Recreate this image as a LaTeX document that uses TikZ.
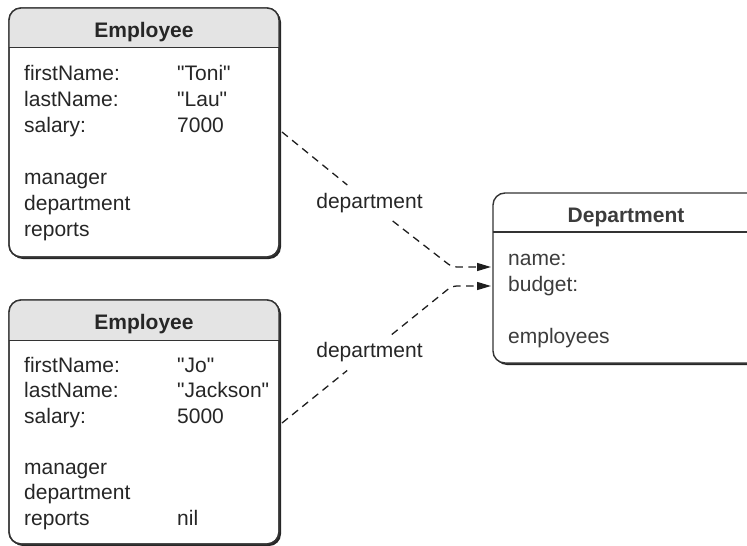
\documentclass[tikz,border=0pt]{standalone}
\usepackage{fontspec}
\setmainfont{Liberation Sans}[Ligatures=TeXOff]
\usetikzlibrary{arrows.meta,shadows}
\definecolor{boxc}{HTML}{333333}
\definecolor{shadowc}{HTML}{262626}
\definecolor{hdr}{HTML}{E4E4E4}
\definecolor{txt}{HTML}{262626}
\definecolor{txtd}{HTML}{3C3C3C}
\definecolor{linec}{HTML}{1E1E1E}
\tikzset{
  boxshape/.style={draw=boxc, line width=1.4pt, rounded corners=12pt, fill=white,
    inner sep=0pt, outer sep=0pt,
    drop shadow={shadow xshift=2pt, shadow yshift=-2pt, fill=shadowc, opacity=1}},
  boxline/.style={draw=boxc, line width=1.4pt},
  fld/.style={anchor=base west, inner sep=0pt, text=txt, font=\fontsize{21pt}{25pt}\selectfont},
  dfld/.style={fld, text=txtd},
  ttl/.style={anchor=base, inner sep=0pt, text=txt, font=\fontsize{21pt}{25pt}\selectfont\bfseries},
  lbl/.style={inner xsep=3pt, inner ysep=8pt, text=txt, font=\fontsize{21pt}{25pt}\selectfont},
  conn/.style={draw=linec, line width=1.3pt, dash pattern=on 7.5pt off 5.5pt,
    -{Triangle[length=14pt,width=8pt]}, shorten >=2pt, rounded corners=5pt},
}
\begin{document}
\begin{tikzpicture}[x=1pt,y=-1pt]
\useasboundingbox (0,0) rectangle (747,546);
\clip (0,0) rectangle (747,546);

% ---------- Employee 1 ----------
\node[boxshape, minimum width=270pt, minimum height=249pt] (emp1) at (144,132.5) {};
\coordinate (h1) at (0,47.5);
\begin{scope}
  \clip[rounded corners=12pt] (emp1.north west) rectangle (emp1.south east);
  \fill[hdr] (emp1.north west) rectangle (emp1.east |- h1);
\end{scope}
\draw[boxline, rounded corners=12pt] (emp1.north west) rectangle (emp1.south east);
\draw[boxline] (emp1.west |- h1) -- (emp1.east |- h1);
\node[ttl] (emp1t) at (144,37) {Employee};
\node[fld] (e1a) at (24,80) {firstName:};
\node[fld] (e1av) at (177,80) {"Toni"};
\node[fld] (e1b) at (24,106) {lastName:};
\node[fld] (e1bv) at (177,106) {"Lau"};
\node[fld] (e1c) at (24,132) {salary:};
\node[fld] (e1cv) at (177,132) {7000};
\node[fld] (e1d) at (24,184) {manager};
\node[fld] (e1e) at (24,210) {department};
\node[fld] (e1f) at (24,236) {reports};

% ---------- Employee 2 ----------
\node[boxshape, minimum width=270pt, minimum height=244pt] (emp2) at (144,422) {};
\coordinate (h2) at (0,340.5);
\begin{scope}
  \clip[rounded corners=12pt] (emp2.north west) rectangle (emp2.south east);
  \fill[hdr] (emp2.north west) rectangle (emp2.east |- h2);
\end{scope}
\draw[boxline, rounded corners=12pt] (emp2.north west) rectangle (emp2.south east);
\draw[boxline] (emp2.west |- h2) -- (emp2.east |- h2);
\node[ttl] (emp2t) at (144,329.5) {Employee};
\node[fld] (e2a) at (24,372) {firstName:};
\node[fld] (e2av) at (177,372) {"Jo"};
\node[fld] (e2b) at (24,397.5) {lastName:};
\node[fld] (e2bv) at (177,397.5) {"Jackson"};
\node[fld] (e2c) at (24,423) {salary:};
\node[fld] (e2cv) at (177,423) {5000};
\node[fld] (e2d) at (24,474) {manager};
\node[fld] (e2e) at (24,499.5) {department};
\node[fld] (e2f) at (24,525) {reports};
\node[fld] (e2fv) at (177,525) {nil};

% ---------- Department ----------
\node[boxshape, minimum width=266pt, minimum height=170pt] (dept) at (626,278) {};
\coordinate (h3) at (0,232);
\draw[boxline] (dept.west |- h3) -- (dept.east |- h3);
\node[ttl, text=txtd] (deptt) at (626,222) {Department};
\node[dfld] (da) at (508,265) {name:};
\node[dfld] (db) at (508,291) {budget:};
\node[dfld] (dc) at (508,343) {employees};

% ---------- connectors ----------
\coordinate (s1) at (282,132);
\coordinate (b1) at (452,267);
\coordinate (s2) at (282,423);
\coordinate (b2) at (452,286);
\node[lbl] (l1) at (369.5,203) {department};
\node[lbl] (l2) at (369.5,352.5) {department};
\draw[conn] (s1) -- (l1) -- (b1) -- ([yshift=11pt]dept.west);
\draw[conn] (s2) -- (l2) -- (b2) -- ([yshift=-8pt]dept.west);
\end{tikzpicture}
\end{document}
